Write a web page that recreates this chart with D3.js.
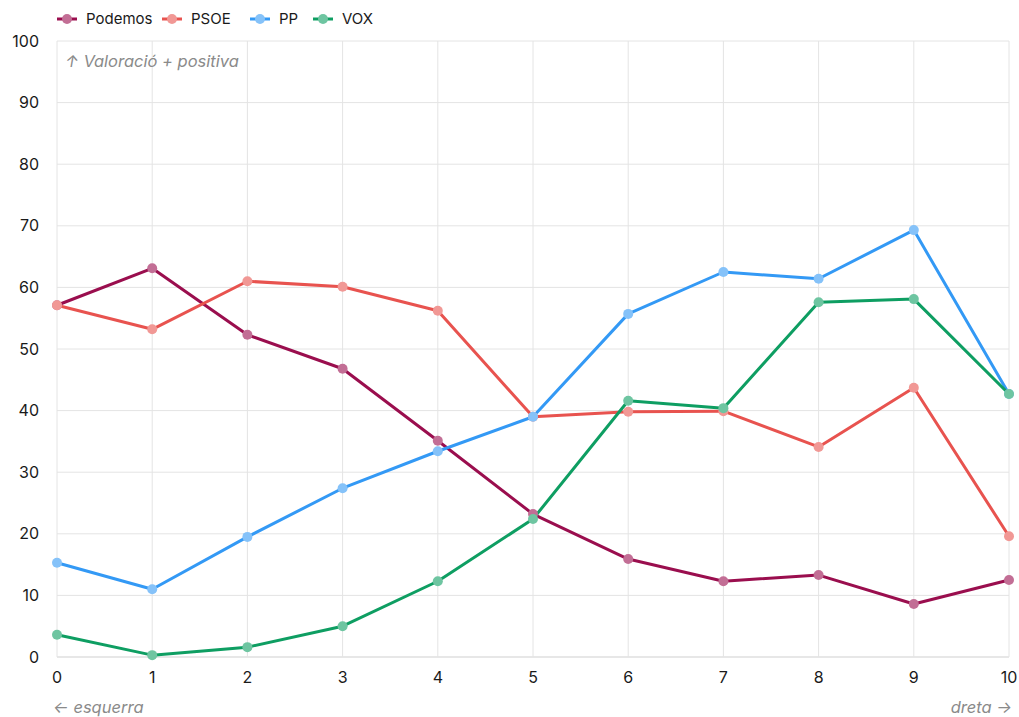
<!DOCTYPE html>
<html><head><meta charset="utf-8">
<script src="https://cdn.jsdelivr.net/npm/d3@7"></script>
<style>body{margin:0;background:#fff}svg{display:block;font-family:Inter,"Noto Sans",sans-serif}</style>
</head><body>
<svg id="c" width="1019" height="717"></svg>
<script>
const xCats = [0,1,2,3,4,5,6,7,8,9,10];
const yTicks = [0,10,20,30,40,50,60,70,80,90,100];
const seriesNames = ["Podemos","PSOE","PP","VOX"];
const podemos = [57.1,63.1,52.3,46.8,35.1,23.2,15.9,12.3,13.3,8.6,12.5];
const psoe    = [57.1,53.2,61.0,60.1,56.2,39.0,39.8,39.9,34.1,43.7,19.6];
const pp      = [15.3,11.0,19.5,27.4,33.4,39.0,55.7,62.5,61.4,69.3,42.7];
const vox     = [3.6,0.3,1.6,5.0,12.3,22.4,41.6,40.4,57.6,58.1,42.7];
const colors  = ["#9A0E4E","#E8534F","#3399F5","#0E9E62"];
const series = [podemos, psoe, pp, vox];

const svg = d3.select("#c");
const L=57,R=1009,T=41,B=657;
const x = d3.scaleLinear().domain([0,10]).range([L,R]);
const y = d3.scaleLinear().domain([0,100]).range([B,T]);

// grid
svg.append("g").selectAll("line").data(yTicks).join("line")
  .attr("x1",L).attr("x2",R).attr("y1",d=>y(d)).attr("y2",d=>y(d))
  .attr("stroke",d=>d===0?"#cfcfcf":"#e4e4e4").attr("stroke-width",1);
svg.append("g").selectAll("line").data(xCats).join("line")
  .attr("y1",T).attr("y2",B).attr("x1",d=>x(d)).attr("x2",d=>x(d))
  .attr("stroke","#e4e4e4").attr("stroke-width",1);

// axes labels
svg.append("g").selectAll("text").data(yTicks).join("text")
  .attr("x",39).attr("y",d=>y(d)).attr("dy","0.35em").attr("text-anchor","end")
  .attr("font-size",16).attr("fill","#1a1a1a").text(d=>d);
svg.append("g").selectAll("text").data(xCats).join("text")
  .attr("x",d=>x(d)).attr("y",683).attr("text-anchor","middle")
  .attr("font-size",16).attr("fill","#1a1a1a").text(d=>d);

// annotations
svg.append("text").attr("x",65).attr("y",67).attr("font-size",16.5).attr("font-style","italic")
  .attr("fill","#8a8a8a").text("↑ Valoració + positiva");
svg.append("text").attr("x",53).attr("y",713).attr("font-size",16.5).attr("font-style","italic")
  .attr("fill","#8a8a8a").text("← esquerra");
svg.append("text").attr("x",1012).attr("y",713).attr("text-anchor","end").attr("font-size",16.5).attr("font-style","italic")
  .attr("fill","#8a8a8a").text("dreta →");

// lines
const line = d3.line().x((d,i)=>x(xCats[i])).y(d=>y(d));
series.forEach((s,k)=>{
  svg.append("path").datum(s).attr("d",line).attr("fill","none")
    .attr("stroke",colors[k]).attr("stroke-width",3).attr("stroke-linejoin","round");
});
series.forEach((s,k)=>{
  const light = d3.interpolateRgb(colors[k],"#ffffff")(0.4);
  svg.append("g").selectAll("circle").data(s).join("circle")
    .attr("cx",(d,i)=>x(xCats[i])).attr("cy",d=>y(d)).attr("r",5)
    .attr("fill",light);
});

// legend
const lx=[67,172,260,323];
const lg = svg.append("g");
seriesNames.forEach((n,k)=>{
  const light = d3.interpolateRgb(colors[k],"#ffffff")(0.4);
  lg.append("line").attr("x1",lx[k]-10).attr("x2",lx[k]+10).attr("y1",19).attr("y2",19)
    .attr("stroke",colors[k]).attr("stroke-width",3);
  lg.append("circle").attr("cx",lx[k]).attr("cy",19).attr("r",5).attr("fill",light);
  lg.append("text").attr("x",lx[k]+19).attr("y",19).attr("dy","0.35em")
    .attr("font-size",15).attr("fill","#1a1a1a").text(n);
});
</script>
</body></html>
